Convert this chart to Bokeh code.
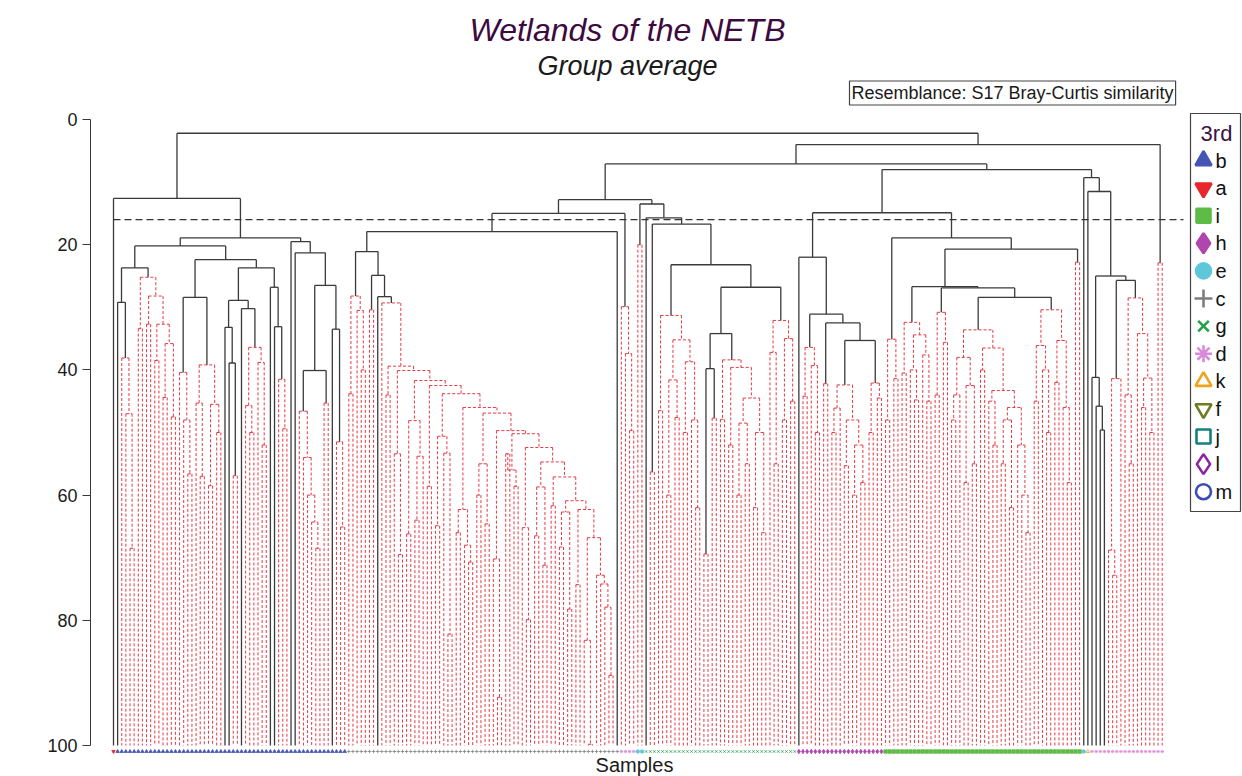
import math
from bokeh.plotting import figure
from bokeh.models import Range1d, FixedTicker, ColumnDataSource, Label
from bokeh.core.properties import value
from bokeh.embed import file_html
from bokeh.resources import INLINE

# ------------------------------------------------------------------ texts
TITLE = "Wetlands of the NETB"
SUBTITLE = "Group average"
RESEMBLANCE = "Resemblance: S17 Bray-Curtis similarity"
X_LABEL = "Samples"
Y_LABEL = "Similarity"
LEGEND_TITLE = "3rd"
y_ticks = [0, 20, 40, 60, 80, 100]
slice_similarity = 16.0

# ------------------------------------------------------------------ factor levels
factor_labels = ["b", "a", "i", "h", "e", "c", "g", "d", "k", "f", "j", "l", "m"]
factor_markers = ["triangle", "inverted_triangle", "square", "diamond", "circle", "cross",
                  "x", "asterisk", "triangle", "inverted_triangle", "square", "diamond", "circle"]
factor_colors = ["#4555b5", "#e8262c", "#5dbb46", "#b046ad", "#5ec8da", "#7f7f7f",
                 "#22a04a", "#d98ad9", "#f0a31e", "#6f7b22", "#12807f", "#8d22a0", "#3c4db8"]
factor_filled = [True, True, True, True, True, False, False, False, False, False, False, False, False]

# factor of each sample, in dendrogram order (runs of consecutive samples)
leaf_factor_runs = [("a", 1), ("b", 56), ("c", 66), ("d", 4), ("e", 2), ("g", 37),
                    ("h", 21), ("i", 48), ("e", 1), ("k", 1), ("d", 18)]

# ------------------------------------------------------------------ dendrogram
# "." = sample, "(A,B)h" = merge at similarity h, trailing "r" = SIMPROF: no
# significant structure below that node (drawn red dashed)
a1a = "(.,(.,(.,(.,.)68.5)47)38.1r)29.2"
a1b = "((.,.)33.4,((.,.)32.7,((.,.)38.5,((.,.)44.4,(.,.)47.5)35.8)32.7)28.2)25.2r"
red182 = "(.,(.,(.,.)56.6)48)40.4r"
red209 = "((.,(.,.)57)45.3,((.,.)58.5,(.,.)50)45.5)39.2r"
n226 = "(.,(.,(.,.)56.9r)38.9)33.2"
n250 = "(.,((.,(.,.)50)45.7,(.,(.,.)52)38.8)36.4r)30.2"
a2R2 = "(.,(.,(.,(.,.)49.4)41.5r)33.1)26.8"
B4 = "((.,(.,(.,(.,(.,.)68.5)64.3)60)54)46.6r,(.,.)45.3r)40.1"
B5 = "(.,(.,(.,.)65.1)51.5r)33.5"

red356 = "((.,.)43.8,(.,(.,.)40)30.5)28.2r"
red370 = "(.,.)30.4r"
stair_heights = [29.3, 39.4, 40.1, 41.7, 42.5, 43.8, 46.0, 46.9, 49.7, 50.2,
                 52.4, 54.7, 57.1, 60.9, 62.3, 66.8, 72.8, 74.2, 77.9, 88.8]
stair_parts = [".", "(.,.)44", "(.,(.,.)69.5)53.4", "((.,.)66.2,((.,.)64,.)53.8)48.1",
               "(.,.)58.6", "((.,.)64.9,(.,(.,.)82.2)53.3)50.6", "((.,.)66,(.,(.,.)70.7)68)62.3",
               "((.,.)60,(.,.)64.6)55", "(.,(.,.)92.3)70.2", "((.,.)53.4,(.,.)58.6)56",
               "(.,(.,.)79.9)65.2", "((.,.)66.5,(.,.)71.2)58.7", "(.,.)61.7",
               "((.,.)68.3,(.,.)78.2)62.7", "(.,.)74.3", "(.,(.,.)99.8)83.2",
               ".", ".", ".", ".", "."]
N1b = "(.,(.,(.,.)49.7)37.4)29.9r"
N2a = "(.,.)20.0r"
N2d = "(.,.)56.3r"
N2f = "((.,.)46.5,(((.,.)60,(.,.)47.6)41.6,((.,.)50,(.,(.,.)62)48)38.7)35.2)31.3r"
N2j = "((.,.)69.4r,(.,.)47.7r)39.8"
N2k = "((.,.)47.9,((.,.)52,(((.,.)60,(.,.)55)48.5,((.,.)62,(.,.)66)50)44.5)39.6)38.4r"
N2i = "((.,(.,.)55)37.2,((.,.)48,(.,.)45)35)32.1r"

Q1c = "((.,.)44.2,(.,(.,.)50)39.3)36.4r"
Q1e = "(.,.)42.2r"
red838 = "(((.,.)50,.)46.1,((.,.)55.3,((.,.)60,(.,.)58)52)48)42.4r"
red873 = "((.,.)50,(.,.)44.5)42.1r"
Q2a = "((.,.)48,(.,.)41.4)35.1r"
Q2e = "((.,.)40.5,((.,(.,.)44.8)40,(.,(.,.)45)37.6)34.4)32.4r"
Q2g = "((.,.)44,(.,.)35.6)30.8r"
Q2i = ("((((.,.)48,.)44,((.,.)58,(.,.)55)42.5)38,((.,.)40,((.,(.,.)52)45,"
       "(((.,.)55,(.,.)62)48,(.,(.,(.,.)66)60)52)46)43.3)36.5)33.6r")
Q2j = "(((.,.)45,(.,(.,.)50)40)36.1,((.,.)42,(.,(.,.)58)46)35.3)30.4r"
Q2d = "(.,.)22.8r"
S4 = "(.,(.,(.,.)49.6)45.8)41.2"
S6 = "((.,(.,.)72.8)68.8,.)41.4r"
S7 = "((.,(.,.)55)44,(.,((.,.)46,(.,.)50)41.3)34.2)28.5r"
last_pair = "(.,.)22.9r"


def ladder(parts, heights):
    s = parts[-1]
    for part, h in zip(reversed(parts[:-1]), reversed(heights)):
        s = "(" + part + "," + s + ")" + str(h)
    return s


def join(a, b, h):
    return "(" + a + "," + b + ")" + str(h)


# assemble the tree
a1 = join(a1a, a1b, 23.7)
a2 = join(join(red182, red209, 28.4), join(join(n226, n250, 28.9), a2R2, 23.7), 22.4)
A = join(a1, a2, 20.2)
B = join(".", join(".", join(B4, B5, 26.5), 21.3), 19.5)
L = join(".", join(A, B, 18.9), 12.6)

stair = ladder(stair_parts, stair_heights) + "r"
n366 = join(red356, join(red370, join(".", stair, 28.3), 24.9), 21.1)
N1 = join(join(n366, ".", 17.9), N1b, 15.0)
N2g = join(join(N2j, N2k, 34.2), N2i, 26.8)
N2 = join(N2a, join(".", join(N2d, join(N2f, N2g, 23.2), 16.7), 15.7), 13.5)
Mleft = join(N1, N2, 12.8)

Q1 = join(".", join(Q1c, join(Q1e, join(red838, red873, 35.3), 32.5), 31.1), 22.0)
Q2 = join(Q2a, join(join(Q2e, join(Q2g, join(Q2i, Q2j, 28.4), 26.9), 26.7), Q2d, 20.7), 18.9)
S = join(".", join(".", join(S4, join(S6, S7, 25.7), 25.0), 11.5), 9.3)
Mright = join(join(Q1, Q2, 14.9), S, 8.0)
R = join(join(Mleft, Mright, 7.1), last_pair, 4.0)
tree_text = join(L, R, 2.2)


def parse_tree(text):
    s = text.replace(" ", "")
    pos = 0

    def node():
        nonlocal pos
        if s[pos] == ".":
            pos += 1
            return {"leaf": True, "red": False}
        if s[pos] != "(":
            raise ValueError("bad tree at %d" % pos)
        pos += 1
        left = node()
        if s[pos] != ",":
            raise ValueError("expected , at %d" % pos)
        pos += 1
        right = node()
        if s[pos] != ")":
            raise ValueError("expected ) at %d" % pos)
        pos += 1
        start = pos
        while pos < len(s) and (s[pos].isdigit() or s[pos] == "."):
            pos += 1
        h = float(s[start:pos])
        red = False
        if pos < len(s) and s[pos] == "r":
            red = True
            pos += 1
        return {"leaf": False, "h": h, "kids": (left, right), "red": red}

    t = node()
    if pos != len(s):
        raise ValueError("trailing text")
    return t


root = parse_tree(tree_text)
leaves = []


def layout(n, red):
    n["red"] = n["red"] or red
    if n["leaf"]:
        n["x"] = float(len(leaves))
        n["y"] = 100.0
        leaves.append(n)
    else:
        for k in n["kids"]:
            layout(k, n["red"])
        n["x"] = (n["kids"][0]["x"] + n["kids"][1]["x"]) / 2.0
        n["y"] = n["h"]


layout(root, False)
N = len(leaves)

segs = {True: dict(x0=[], y0=[], x1=[], y1=[]), False: dict(x0=[], y0=[], x1=[], y1=[])}


def add(d, x0, y0, x1, y1):
    d["x0"].append(x0); d["y0"].append(y0); d["x1"].append(x1); d["y1"].append(y1)


def collect(n):
    if n["leaf"]:
        return
    a, b = n["kids"]
    d = segs[n["red"]]
    add(d, a["x"], n["y"], b["x"], n["y"])
    for k in (a, b):
        add(d, k["x"], n["y"], k["x"], k["y"])
        collect(k)


collect(root)

# ------------------------------------------------------------------ canvas geometry (pixels)
W, H = 1242, 776
AXIS_PX = 90.0                           # x of the similarity axis
FIRST_PX, LAST_PX = 113.0, 1161.7        # x of first / last sample
ZERO_PY, FULL_PY = 119.0, 745.0          # y of similarity 0 / 100
SPX = (LAST_PX - FIRST_PX) / (N - 1)
SPY = (FULL_PY - ZERO_PY) / 100.0


def dx(px):
    return (px - FIRST_PX) / SPX


def dy(py):
    return (py - ZERO_PY) / SPY


FONT = "Liberation Sans"

p = figure(width=W, height=H, output_backend="svg", toolbar_location=None, title=None,
           x_range=Range1d(dx(AXIS_PX), dx(W)), y_range=Range1d(dy(H), dy(0)),
           x_axis_location=None, min_border_left=int(AXIS_PX), min_border_right=0,
           min_border_top=0, min_border_bottom=0)
p.xgrid.visible = False
p.ygrid.visible = False
p.outline_line_color = None
p.background_fill_color = "white"

ax = p.yaxis[0]
ax.ticker = FixedTicker(ticks=y_ticks)
ax.bounds = (0, 100)
ax.major_tick_out = 8
ax.major_tick_in = 0
ax.minor_tick_out = 0
ax.minor_tick_in = 0
ax.axis_line_color = "#3a3a3a"
ax.major_tick_line_color = "#3a3a3a"
ax.major_label_text_font = FONT
ax.major_label_text_font_size = "18px"
ax.major_label_text_color = "#1a1a1a"
ax.major_label_standoff = 5

# branches
p.segment(x0="x0", y0="y0", x1="x1", y1="y1", source=ColumnDataSource(segs[False]),
          line_color="#3a3a3a", line_width=1.3)
p.segment(x0="x0", y0="y0", x1="x1", y1="y1", source=ColumnDataSource(segs[True]),
          line_color="#e23a44", line_width=1.0, line_dash="3 2")

# slice line
p.segment(x0=[0], y0=[slice_similarity], x1=[N - 1 + dx(1183) - dx(LAST_PX)], y1=[slice_similarity],
          line_color="#333333", line_width=1.4, line_dash="7 4")

# sample factor markers along the bottom
fidx = {lab: i for i, lab in enumerate(factor_labels)}
leaf_factor = []
for lab, cnt in leaf_factor_runs:
    leaf_factor += [lab] * cnt
leaf_factor = (leaf_factor + [leaf_factor[-1]] * N)[:N]
bm = dict(x=[], y=[], mk=[], fc=[], lc=[], sz=[])
for i, lab in enumerate(leaf_factor):
    j = fidx[lab]
    bm["x"].append(leaves[i]["x"])
    bm["y"].append(dy(751))
    bm["mk"].append(factor_markers[j])
    bm["lc"].append(factor_colors[j])
    bm["fc"].append(factor_colors[j] if factor_filled[j] else "white")
    bm["sz"].append(4.5 if factor_markers[j] == "diamond" else 3.5)
p.scatter(x="x", y="y", marker="mk", size="sz", fill_color="fc", line_color="lc",
          line_width=0.8, source=ColumnDataSource(bm))

# legend (factor "3rd")
p.quad(left=[dx(1190)], right=[dx(1240)], top=[dy(113)], bottom=[dy(511)],
       fill_color="white", line_color="#444444", line_width=1.2)
size_map = {"triangle": 16, "inverted_triangle": 16, "square": 14, "diamond": 20,
            "circle": 15, "cross": 18, "x": 15, "asterisk": 17}
lg = dict(x=[], y=[], mk=[], fc=[], lc=[], sz=[], tx=[], lab=[])
for i, lab in enumerate(factor_labels):
    yy = dy(160 + 27.6 * i)
    lg["x"].append(dx(1203))
    lg["y"].append(yy)
    lg["mk"].append(factor_markers[i])
    lg["lc"].append(factor_colors[i])
    lg["fc"].append(factor_colors[i] if factor_filled[i] else "white")
    lg["sz"].append(size_map[factor_markers[i]])
    lg["tx"].append(dx(1215))
    lg["lab"].append(lab)
lsrc = ColumnDataSource(lg)
p.scatter(x="x", y="y", marker="mk", size="sz", fill_color="fc", line_color="lc",
          line_width=2.6, source=lsrc)
p.text(x="tx", y="y", text="lab", source=lsrc, text_font=value(FONT), text_font_size="20px",
       text_color="#111111", text_align="left", text_baseline="middle")

# texts
p.add_layout(Label(x=dx(1216), y=dy(133), text=LEGEND_TITLE, text_font=FONT, text_font_size="22px",
                   text_color="#3b1242", text_align="center", text_baseline="middle"))
p.add_layout(Label(x=dx(627), y=dy(29), text=TITLE, text_font=FONT, text_font_size="32px",
                   text_font_style="italic", text_color="#3d0a3f", text_align="center",
                   text_baseline="middle"))
p.add_layout(Label(x=dx(627), y=dy(65), text=SUBTITLE, text_font=FONT, text_font_size="27px",
                   text_font_style="italic", text_color="#1a1a1a", text_align="center",
                   text_baseline="middle"))
p.add_layout(Label(x=dx(849), y=dy(92.5), text=RESEMBLANCE, text_font=FONT, text_font_size="18px",
                   text_color="#1a1a1a", text_align="left", text_baseline="middle",
                   border_line_color="#444444", border_line_width=1.2,
                   background_fill_color="white", padding=2))
p.add_layout(Label(x=dx(634), y=dy(764), text=X_LABEL, text_font=FONT, text_font_size="20px",
                   text_color="#1a1a1a", text_align="center", text_baseline="middle"))
p.add_layout(Label(x=dx(30), y=dy(432), text=Y_LABEL, text_font=FONT, text_font_size="20px",
                   text_color="#1a1a1a", text_align="center", text_baseline="middle",
                   angle=math.pi / 2))

open("out.html", "w").write(file_html(p, INLINE, "Wetlands of the NETB"))
